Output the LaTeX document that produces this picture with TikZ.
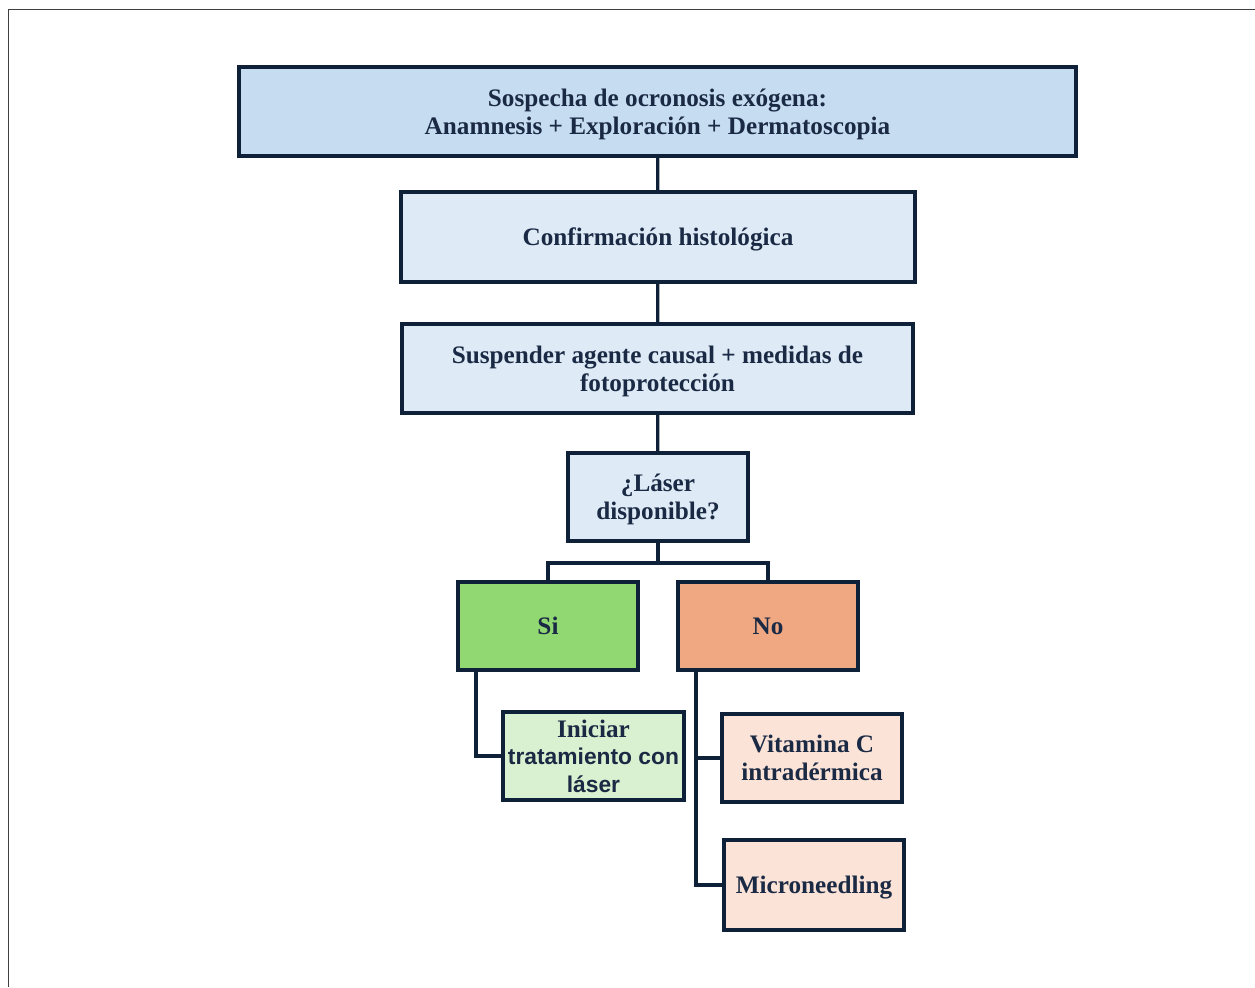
\documentclass[tikz,border=0pt]{standalone}
\usepackage{fontspec}
\setmainfont{Liberation Serif}
\setsansfont{Liberation Sans}
\usetikzlibrary{calc}

\definecolor{navy}{HTML}{0F2139}
\definecolor{textnavy}{HTML}{1B2A44}
\definecolor{blueA}{HTML}{C6DCF1}
\definecolor{blueB}{HTML}{DEEAF6}
\definecolor{greenA}{HTML}{91D873}
\definecolor{greenB}{HTML}{D9F1D0}
\definecolor{orangeA}{HTML}{F0A882}
\definecolor{orangeB}{HTML}{FBE3D7}

\tikzset{
  box/.style={draw=navy, line width=2pt, align=center, inner sep=2pt, text depth=0pt,
    font=\bfseries\fontsize{12.6}{13.8}\selectfont, text=textnavy},
  link/.style={draw=navy, line width=1.6pt}
}

\begin{document}
\begin{tikzpicture}[x=0.5pt, y=-0.5pt]
    \useasboundingbox (0,0) rectangle (1255,987);
    \draw[black!75, line width=0.9pt] (8.5,987) -- (8.5,9.5) -- (1255,9.5);

    % main column
    \node[box, fill=blueA, minimum width=418.5pt, minimum height=44.5pt] (sospecha) at (657.5,111.5)
      {Sospecha de ocronosis exógena:\\Anamnesis + Exploración + Dermatoscopia};
    \node[box, fill=blueB, minimum width=257pt, minimum height=45pt] (histo) at (658,237)
      {Confirmación histológica};
    \node[box, fill=blueB, minimum width=255.5pt, minimum height=44.5pt] (suspender) at (657.5,368.5)
      {Suspender agente causal + medidas de\\fotoprotección};
    \node[box, fill=blueB, minimum width=90pt, minimum height=44pt] (laser) at (658,497)
      {¿Láser\\disponible?};

    % answers
    \node[box, fill=greenA, minimum width=90pt, minimum height=44pt] (si) at (548,626) {Si};
    \node[box, fill=orangeA, minimum width=90pt, minimum height=44pt] (no) at (768,626) {No};

    \node[box, fill=greenB, minimum width=90.5pt, minimum height=44pt] (iniciar) at (593.5,756)
      {Iniciar\\{\sffamily\fontsize{11.4}{13.8}\selectfont tratamiento con}\\{\sffamily\fontsize{11.4}{13.8}\selectfont láser}};
    \node[box, fill=orangeB, minimum width=90pt, minimum height=44pt] (vitamina) at (812,758)
      {Vitamina C\\intradérmica};
    \node[box, fill=orangeB, minimum width=90pt, minimum height=45pt] (micro) at (814,885)
      {Microneedling};

    \draw[link] (sospecha) -- (histo);
    \draw[link] (histo) -- (suspender);
    \draw[link] (suspender) -- (laser);
    \coordinate (split) at ($(laser.south)+(0,20)$);
    \draw[link] (laser.south) -- (split);
    \draw[link] (split) -| (si.north);
    \draw[link] (split) -| (no.north);
    \draw[link] ($(si.south west)+(20,0)$) |- (iniciar.west);
    \draw[link] ($(no.south west)+(20,0)$) |- (vitamina.west);
    \draw[link] ($(no.south west)+(20,0)$) |- (micro.west);
  \end{tikzpicture}
\end{document}
